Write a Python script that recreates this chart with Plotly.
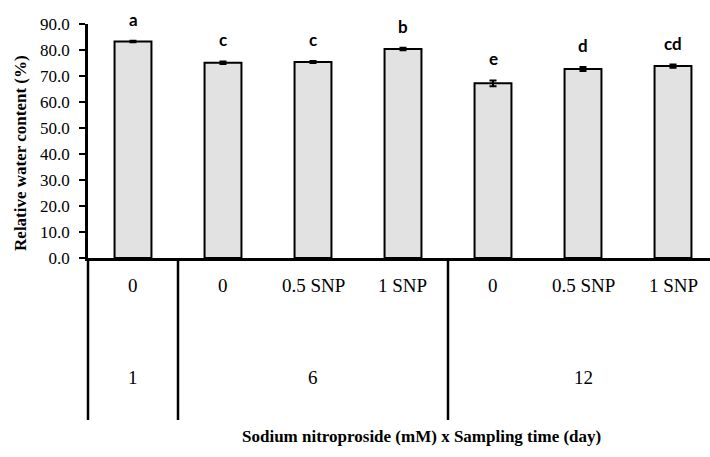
import plotly.graph_objects as go

# ---- data ----
snp_labels = ["0", "0", "0.5 SNP", "1 SNP", "0", "0.5 SNP", "1 SNP"]
day_labels = ["1", "6", "12"]
group_sizes = [1, 3, 3]
rwc_values = [83.3, 75.1, 75.4, 80.4, 67.2, 72.7, 73.8]
rwc_errors = [0.3, 0.5, 0.4, 0.5, 1.1, 0.8, 0.6]
sig_letters = ["a", "c", "c", "b", "e", "d", "cd"]
y_ticks = [0, 10, 20, 30, 40, 50, 60, 70, 80, 90]

W, H = 710, 457
L, R, T, B = 88, 0, 24, 199
plot_w = W - L - R
plot_h = H - T - B
cat_px = 90  # pixel width of one category slot
x_max = -0.5 + plot_w / cat_px

def py(px_below_axis):
    """paper y for a pixel offset below the x axis line"""
    return -px_below_axis / plot_h

def px_of(xdata):
    """paper x for a data x"""
    return (xdata + 0.5) / (x_max + 0.5)

xpos = list(range(len(rwc_values)))

fig = go.Figure()
fig.add_trace(go.Bar(
    x=xpos, y=rwc_values,
    width=0.41,
    marker=dict(color="#e2e2e2", line=dict(color="black", width=2)),
    error_y=dict(type="data", array=rwc_errors, visible=True,
                 color="black", thickness=2, width=3.5),
    showlegend=False,
))

serif = "Liberation Serif, Times New Roman, serif"
ann = []
# significance letters
for x, v, e, t in zip(xpos, rwc_values, rwc_errors, sig_letters):
    ann.append(dict(x=x, y=v + e, xref="x", yref="y", text=t, showarrow=False,
                    xanchor="center", yanchor="bottom", yshift=9,
                    font=dict(family="Lato, Carlito, Arial", size=17, color="black", weight="bold")))
# SNP row
for x, t in zip(xpos, snp_labels):
    ann.append(dict(x=px_of(x), y=py(27), xref="paper", yref="paper", text=t, showarrow=False,
                    xanchor="center", yanchor="middle", font=dict(family=serif, size=19, color="black")))
# day row + group separators
start = 0
shapes = []
for size, lab in zip(group_sizes, day_labels):
    center = start + (size - 1) / 2
    ann.append(dict(x=px_of(center), y=py(119), xref="paper", yref="paper", text=lab, showarrow=False,
                    xanchor="center", yanchor="middle", font=dict(family=serif, size=19, color="black")))
    xs = px_of(start - 0.5)
    shapes.append(dict(type="line", xref="paper", yref="paper", x0=xs, x1=xs,
                       y0=0, y1=py(162), line=dict(color="black", width=2.5)))
    start += size

# axis titles
ann.append(dict(x=(421 - L) / plot_w, y=py(178), xref="paper", yref="paper",
                text="<b>Sodium nitroproside (mM) x Sampling time (day)</b>", showarrow=False,
                xanchor="center", yanchor="middle", font=dict(family=serif, size=17, color="black")))
ann.append(dict(x=(21 - L) / plot_w, y=0.449, xref="paper", yref="paper",
                text="<b>Relative water content (%)</b>", textangle=-90, showarrow=False,
                xanchor="center", yanchor="middle", font=dict(family=serif, size=17, color="black")))

fig.update_layout(
    width=W, height=H,
    margin=dict(l=L, r=R, t=T, b=B, autoexpand=False),
    paper_bgcolor="white", plot_bgcolor="white",
    annotations=ann, shapes=shapes,
)
fig.update_xaxes(range=[-0.5, x_max], showticklabels=False, automargin=False,
                 showline=True, linecolor="black", linewidth=2.5, ticks="",
                 showgrid=False, zeroline=False, fixedrange=True)
fig.update_yaxes(range=[0, 90], tickvals=y_ticks, tickformat=".1f", automargin=False,
                 showline=True, linecolor="black", linewidth=2.5,
                 ticks="outside", ticklen=6, tickwidth=2, tickcolor="black",
                 ticklabelstandoff=6,
                 tickfont=dict(family=serif, size=17, color="black"),
                 showgrid=False, zeroline=False)

fig.write_html("out.html", config={"displayModeBar": False},
               post_script="document.body.style.margin='0';document.body.style.overflow='hidden';")
